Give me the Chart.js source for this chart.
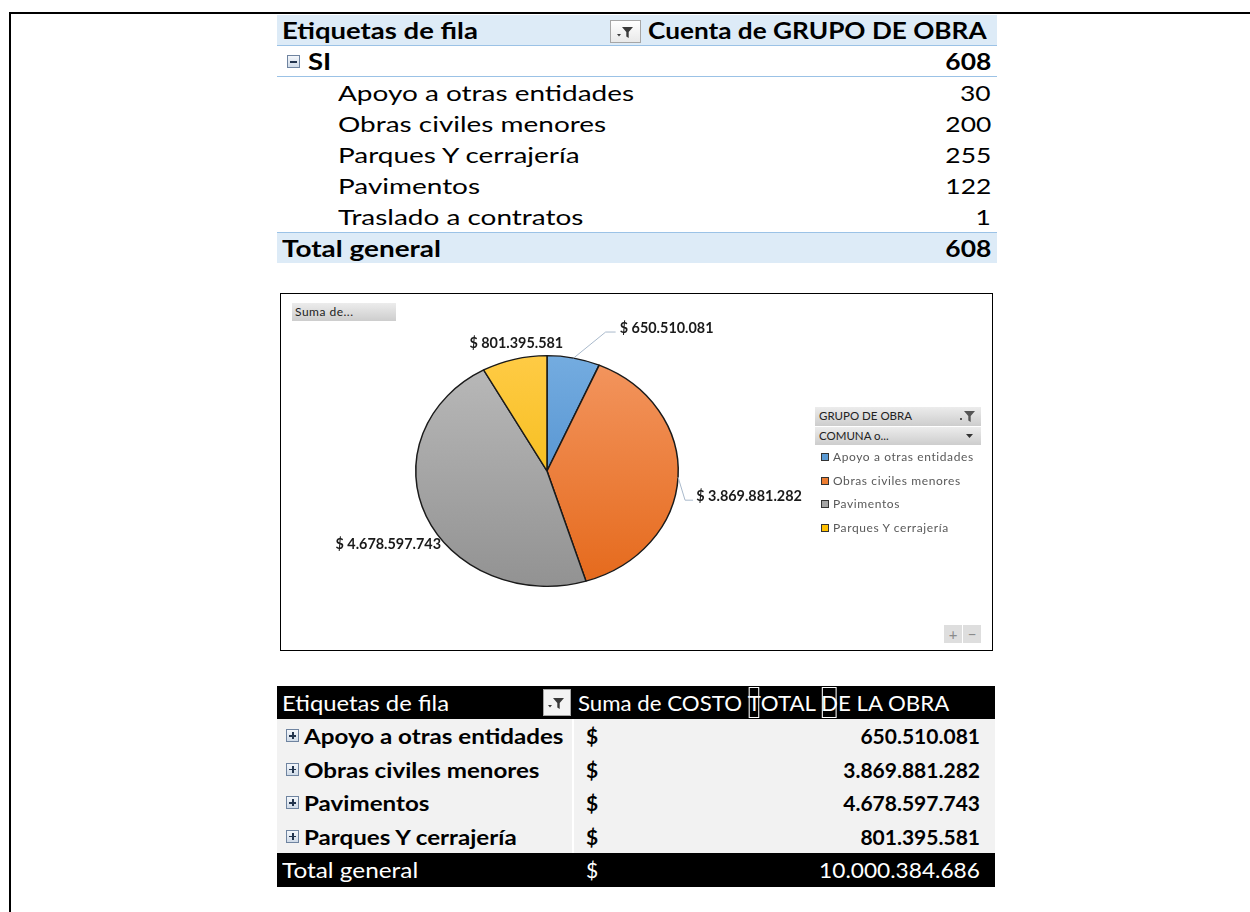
<!DOCTYPE html>
<html>
<head>
<meta charset="utf-8">
<script src="https://cdn.jsdelivr.net/npm/chart.js@4.4.1/dist/chart.umd.min.js"></script>
<style>
  html, body { margin: 0; background: #fff; font-family: Lato, "Noto Sans", sans-serif; overflow: hidden; width: 1250px; height: 912px; }
  #frame { position: absolute; left: 9px; top: 12px; width: 1260px; height: 920px; border-left: 2px solid #000; border-top: 2px solid #000; }
  .abs { position: absolute; }
  .sx { display: inline-block; transform-origin: left center; }
  .sxr { display: inline-block; transform-origin: right center; }

  /* count pivot */
  #countTable { position: absolute; left: 277px; top: 15px; width: 720px; font-size: 22px; }
  #countTable .row { position: relative; height: 31px; line-height: 31px; white-space: nowrap; }
  #countTable .head { background: #ddebf7; font-weight: bold; border-bottom: 1px solid #9bc2e6; height: 30px; }
  #countTable .group { font-weight: bold; border-bottom: 1px solid #9bc2e6; height: 30px; }
  #countTable .total { background: #ddebf7; font-weight: bold; border-top: 1px solid #9bc2e6; height: 30px; }
  #countTable .lbl { position: absolute; left: 5px; }
  #countTable .sub { left: 61px; }
  #countTable .val { position: absolute; right: 6px; }

  .filterBtn { position: absolute; border: 1px solid #a6a6a6; background: linear-gradient(#ffffff, #e9e9e9); box-sizing: border-box; }
  .filterBtn svg { position: absolute; left: 50%; top: 50%; transform: translate(-50%, -50%); }

  .boxIcon { position: absolute; width: 13px; height: 13px; border: 1px solid #6f84a0; background: linear-gradient(#f4f7fb, #d0dbe8); box-sizing: border-box; }
  .boxIcon::before { content: ""; position: absolute; left: 2px; right: 2px; top: 5px; height: 1.5px; background: #22344d; }
  .boxIcon.plus::after { content: ""; position: absolute; top: 2px; bottom: 2px; left: 5px; width: 1.5px; background: #22344d; }

  /* chart box */
  #chartBox { position: absolute; left: 280px; top: 293px; width: 713px; height: 358px; border: 1.5px solid #000; box-sizing: border-box; background: #fff; }
  #pie { position: absolute; left: -0.5px; top: -0.5px; }
  .xlBtn { position: absolute; background: linear-gradient(#ececec, #cdcdcd); color: #222; font-size: 11.5px; line-height: 18px; white-space: nowrap; box-sizing: border-box; }
  #legend { position: absolute; left: 540px; top: 156px; font-size: 12px; color: #595959; }
  #legend .item { position: absolute; left: 0; height: 14px; line-height: 14px; white-space: nowrap; }
  #legend .sw { position: absolute; left: 0; top: 3px; width: 8px; height: 8px; border: 1px solid #333; box-sizing: border-box; }
  #legend .txt { position: absolute; left: 12px; top: 0; letter-spacing: 0.6px; }

  /* cost pivot */
  #costTable { position: absolute; left: 277px; top: 686px; width: 718px; font-size: 21px; }
  #costTable .row { position: relative; white-space: nowrap; }
  #costTable .head { height: 33px; line-height: 33px; background: #000; color: #fff; }
  #costTable .body { height: 33.5px; line-height: 33.5px; background: #f2f2f2; font-weight: bold; }
  #costTable .total { height: 34px; line-height: 34px; background: #000; color: #fff; }
  #costTable .lbl { position: absolute; left: 5px; }
  #costTable .body .lbl { left: 27px; }
  #costTable .cur { position: absolute; left: 309px; }
  #costTable .val { position: absolute; right: 15px; }
  #costTable .sep { position: absolute; left: 295px; top: 33px; width: 2px; height: 134px; background: #ffffff; }
  .glyphBox { display: inline-block; outline: 1px solid #fff; outline-offset: -2px; }
</style>
</head>
<body>
<div id="frame"></div>

<div id="countTable"></div>

<div id="chartBox">
  <canvas id="pie" width="711" height="356"></canvas>
  <div class="xlBtn" style="left:11px; top:9px; width:104px; height:18px; padding-left:3px; font-size:12px; letter-spacing:0.5px;">Suma de...</div>
  <div class="xlBtn" style="left:534px; top:113px; width:166px; height:19px; padding-left:4px;">GRUPO DE OBRA
    <svg class="abs" style="right:5px; top:3px;" width="16" height="13"><path d="M4 1h11l-4.3 5v6l-2.4-1.6V6z" fill="#555"/><rect x="0" y="8" width="2" height="2" fill="#555"/></svg>
  </div>
  <div class="xlBtn" style="left:534px; top:133px; width:166px; height:18px; padding-left:4px;">COMUNA o...
    <svg class="abs" style="right:8px; top:7px;" width="7" height="4"><path d="M0 0h7l-3.5 4z" fill="#333"/></svg>
  </div>
  <div id="legend"></div>
  <div class="xlBtn" style="left:663px; top:331px; width:18px; height:18px; text-align:center; color:#8a8a8a; font-size:15px; background:#dedede;">+</div>
  <div class="xlBtn" style="left:682px; top:331px; width:18px; height:18px; text-align:center; color:#8a8a8a; font-size:15px; background:#dedede;">&minus;</div>
</div>

<div id="costTable"></div>

<script>
// Cuenta de GRUPO DE OBRA (grupo "SI")
const groupName = 'SI';
const countCategories = ['Apoyo a otras entidades', 'Obras civiles menores', 'Parques Y cerrajería', 'Pavimentos', 'Traslado a contratos'];
const countValues = [30, 200, 255, 122, 1];

// Suma de COSTO TOTAL DE LA OBRA
const costCategories = ['Apoyo a otras entidades', 'Obras civiles menores', 'Pavimentos', 'Parques Y cerrajería'];
const costValues = [650510081, 3869881282, 4678597743, 801395581];
const costTotal = 10000384686;   // as shown in the pivot (decimals hidden)

// slice colours (Excel gradient style, top -> bottom)
const sliceColors = ['#5b9bd5', '#ed7d31', '#a5a5a5', '#ffc000'];
const sliceTop = ['#74acE0', '#f39660', '#bababa', '#ffcb45'];
const sliceBottom = ['#3f82c6', '#e5691b', '#929292', '#eeb400'];

// label placement relative to the slice edge, and leader lines
const labelOffsets = [[93, -30], [71, 19], [-38, 28], [2, -16]];
const leaderElbows = [[[32, -26], [42, -26]], [[7, 23], [15, 23]], null, null];
const PIE_SQUASH = 0.879;

// format numbers with dots as thousands separators
function fmt(n) {
    return String(n).replace(/\B(?=(\d{3})+(?!\d))/g, '.');
}

// wrap text in a horizontally stretched span (the screenshot is stretched)
function wide(text, sx, right) {
    return '<span class="' + (right ? 'sxr' : 'sx') + '" style="transform:scaleX(' + sx + ')">' + text + '</span>';
}

const funnelSvg = '<svg width="18" height="14"><path d="M5 2h11l-4.3 5v6l-2.4-1.6V7z" fill="#3a3a3a"/><path d="M0 9h4l-2 2.5z" fill="#3a3a3a"/></svg>';

// build the count pivot table
function buildCountTable() {
    const el = document.getElementById('countTable');
    const total = countValues.reduce((a, b) => a + b, 0);
    let html = '<div class="row head"><span class="lbl">' + wide('Etiquetas de fila', 1.25) + '</span>' +
        '<div class="filterBtn" style="left:333px; top:5px; width:31px; height:23px;">' + funnelSvg + '</div>' +
        '<span class="abs" style="left:371px;">' + wide('Cuenta de GRUPO DE OBRA', 1.19) + '</span></div>';
    html += '<div class="row group"><span class="boxIcon" style="left:10px; top:9px;"></span>' +
        '<span class="lbl" style="left:31px;">' + wide(groupName, 1.25) + '</span><span class="val">' + wide(total, 1.2, true) + '</span></div>';
    countCategories.forEach((name, i) => {
        html += '<div class="row"><span class="lbl sub">' + wide(name, 1.27) + '</span><span class="val">' + wide(countValues[i], 1.2, true) + '</span></div>';
    });
    html += '<div class="row total"><span class="lbl">' + wide('Total general', 1.27) + '</span><span class="val">' + wide(total, 1.2, true) + '</span></div>';
    el.innerHTML = html;
}

// build the cost pivot table
function buildCostTable() {
    const el = document.getElementById('costTable');
    let html = '<div class="row head"><span class="lbl">' + wide('Etiquetas de fila', 1.135) + '</span>' +
        '<div class="filterBtn" style="left:266px; top:3px; width:28px; height:27px; background:#f3f3f3;">' + funnelSvg + '</div>' +
        '<span class="abs" style="left:301px;">' + wide('Suma de COSTO <span class="glyphBox">T</span>OTAL <span class="glyphBox">D</span>E LA OBRA', 1.06) + '</span></div>';
    costCategories.forEach((name, i) => {
        html += '<div class="row body"><span class="boxIcon plus" style="left:9px; top:10px;"></span>' +
            '<span class="lbl">' + wide(name, 1.15) + '</span><span class="cur">$</span><span class="val">' + fmt(costValues[i]) + '</span></div>';
    });
    html += '<div class="row total"><span class="lbl">' + wide('Total general', 1.16) + '</span><span class="cur">$</span><span class="val">' + wide(fmt(costTotal), 1.08, true) + '</span></div>';
    html += '<div class="sep"></div>';
    el.innerHTML = html;
}

// legend inside the chart filter pane
function buildLegend() {
    const el = document.getElementById('legend');
    const tops = [0, 24, 47, 71];
    let html = '';
    costCategories.forEach((name, i) => {
        html += '<div class="item" style="top:' + tops[i] + 'px;"><span class="sw" style="background:' + sliceColors[i] + '"></span>' +
            '<span class="txt">' + name + '</span></div>';
    });
    el.innerHTML = html;
}

// vertical gradient across the whole pie
function sliceGradient(context) {
    const chart = context.chart;
    const area = chart.chartArea;
    const i = context.dataIndex;
    if (!area) return sliceColors[i];
    const g = chart.ctx.createLinearGradient(0, area.top, 0, area.bottom);
    g.addColorStop(0, sliceTop[i]);
    g.addColorStop(1, sliceBottom[i]);
    return g;
}

// squash the pie vertically like the stretched screenshot
const squashPlugin = {
    id: 'squash',
    beforeDatasetsDraw(chart) {
        const arc = chart.getDatasetMeta(0).data[0];
        const ctx = chart.ctx;
        ctx.save();
        ctx.translate(arc.x, arc.y);
        ctx.scale(1, PIE_SQUASH);
        ctx.translate(-arc.x, -arc.y);
    },
    afterDatasetsDraw(chart) {
        chart.ctx.restore();
    }
};

// data labels with leader lines
const labelPlugin = {
    id: 'sliceLabels',
    afterDraw(chart) {
        const ctx = chart.ctx;
        const meta = chart.getDatasetMeta(0);
        ctx.save();
        meta.data.forEach((arc, i) => {
            const p = arc.getProps(['x', 'y', 'startAngle', 'endAngle', 'outerRadius']);
            const mid = (p.startAngle + p.endAngle) / 2;
            const ax = p.x + Math.cos(mid) * p.outerRadius;
            const ay = p.y + Math.sin(mid) * p.outerRadius * PIE_SQUASH;
            const elbow = leaderElbows[i];
            if (elbow) {
                ctx.strokeStyle = '#a9b9cb';
                ctx.lineWidth = 1;
                ctx.beginPath();
                ctx.moveTo(ax, ay);
                ctx.lineTo(ax + elbow[0][0], ay + elbow[0][1]);
                ctx.lineTo(ax + elbow[1][0], ay + elbow[1][1]);
                ctx.stroke();
            }
            const lx = ax + labelOffsets[i][0];
            const ly = ay + labelOffsets[i][1];
            ctx.fillStyle = '#1a1a1a';
            ctx.font = 'bold 14.4px Lato';
            ctx.textAlign = 'center';
            ctx.textBaseline = 'middle';
            ctx.fillText('$ ' + fmt(costValues[i]), lx, ly);
        });
        ctx.restore();
    }
};

function drawPie() {
    const ctx = document.getElementById('pie').getContext('2d');
    new Chart(ctx, {
        type: 'pie',
        data: {
            labels: costCategories,
            datasets: [{
                data: costValues,
                backgroundColor: sliceGradient,
                borderColor: '#1a1a1a',
                borderWidth: 1.5
            }]
        },
        options: {
            responsive: false,
            animation: false,
            layout: { padding: { left: 134, top: 45, right: 313, bottom: 47 } },
            plugins: {
                legend: { display: false },
                tooltip: { enabled: false }
            }
        },
        plugins: [squashPlugin, labelPlugin]
    });
}

buildCountTable();
buildCostTable();
buildLegend();
drawPie();
</script>
</body>
</html>
